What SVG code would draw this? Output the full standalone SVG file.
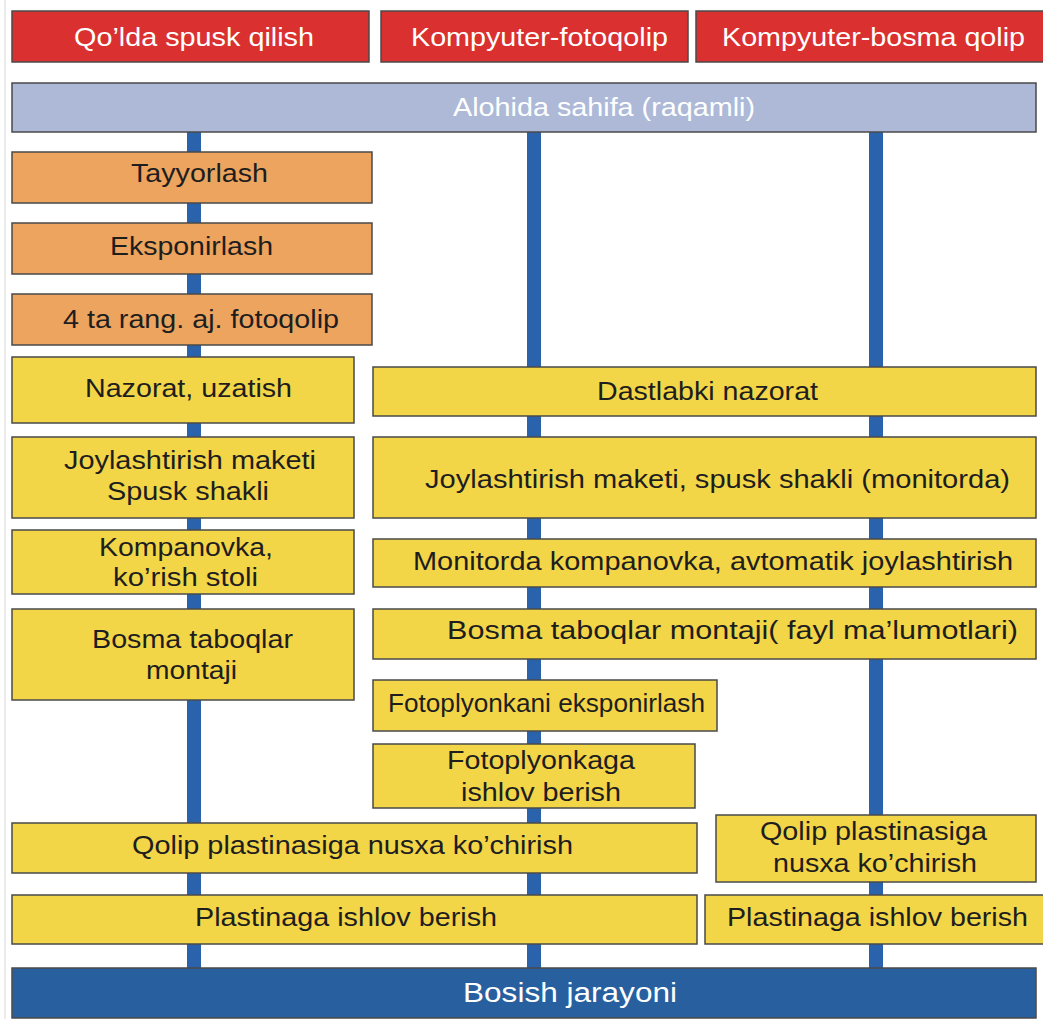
<svg xmlns="http://www.w3.org/2000/svg" width="1043" height="1019" viewBox="0 0 1043 1019">
  <style>
    .box { stroke: #4a4a4a; stroke-width: 1.5; }
    .red { fill: #da3030; }
    .sky { fill: #adb9d7; }
    .org { fill: #eca45f; }
    .yel { fill: #f3d548; }
    .navy { fill: #28609f; }
    .bar { fill: #2a63ab; }
    text { font-family: "Liberation Sans", Arial, sans-serif; }
    .wt { fill: #ffffff; }
    .bk { fill: #1e1e1e; font-size: 25px; }
    .hd { font-size: 26px; }
  </style>
  <rect x="0" y="0" width="1043" height="1019" fill="#ffffff"/>
  <line x1="5" y1="0" x2="5" y2="1019" stroke="#e4e4e4" stroke-width="1.5"/>

  <!-- vertical flow bars -->
  <g id="connectors">
    <rect class="bar" x="187" y="130" width="14" height="840"/>
    <rect class="bar" x="527" y="130" width="14" height="840"/>
    <rect class="bar" x="869" y="130" width="14" height="840"/>
  </g>

  <!-- column headers -->
  <g id="h-manual">
    <rect class="box red" x="12" y="11" width="357" height="51"/>
    <text class="wt hd" x="74" y="46" textLength="240" lengthAdjust="spacingAndGlyphs">Qo’lda spusk qilish</text>
  </g>
  <g id="h-photo">
    <rect class="box red" x="381" y="11" width="307" height="51"/>
    <text class="wt hd" x="411" y="46" textLength="257" lengthAdjust="spacingAndGlyphs">Kompyuter-fotoqolip</text>
  </g>
  <g id="h-plate">
    <rect class="box red" x="696" y="11" width="360" height="51"/>
    <text class="wt hd" x="722" y="46" textLength="303" lengthAdjust="spacingAndGlyphs">Kompyuter-bosma qolip</text>
  </g>

  <g id="page">
    <rect class="box sky" x="12" y="83" width="1024" height="49"/>
    <text class="wt" font-size="25" x="453" y="116" textLength="302" lengthAdjust="spacingAndGlyphs">Alohida sahifa (raqamli)</text>
  </g>

  <!-- manual column -->
  <g id="prep">
    <rect class="box org" x="12" y="152" width="360" height="51"/>
    <text class="bk" x="131" y="182" textLength="137" lengthAdjust="spacingAndGlyphs">Tayyorlash</text>
  </g>
  <g id="expose">
    <rect class="box org" x="12" y="223" width="360" height="51"/>
    <text class="bk" x="110" y="255" textLength="163" lengthAdjust="spacingAndGlyphs">Eksponirlash</text>
  </g>
  <g id="four-color">
    <rect class="box org" x="12" y="294" width="360" height="51"/>
    <text class="bk" x="63" y="328" textLength="276" lengthAdjust="spacingAndGlyphs">4 ta rang. aj. fotoqolip</text>
  </g>
  <g id="control-left">
    <rect class="box yel" x="12" y="357" width="342" height="66"/>
    <text class="bk" x="85" y="397" textLength="207" lengthAdjust="spacingAndGlyphs">Nazorat, uzatish</text>
  </g>
  <g id="layout-left">
    <rect class="box yel" x="12" y="437" width="342" height="81"/>
    <text class="bk" x="64" y="469" textLength="252" lengthAdjust="spacingAndGlyphs">Joylashtirish maketi</text>
    <text class="bk" x="107" y="500" textLength="162" lengthAdjust="spacingAndGlyphs">Spusk shakli</text>
  </g>
  <g id="composing-left">
    <rect class="box yel" x="12" y="530" width="342" height="64"/>
    <text class="bk" x="99" y="556" textLength="174" lengthAdjust="spacingAndGlyphs">Kompanovka,</text>
    <text class="bk" x="113" y="586" textLength="145" lengthAdjust="spacingAndGlyphs">ko’rish stoli</text>
  </g>
  <g id="assembly-left">
    <rect class="box yel" x="12" y="609" width="342" height="91"/>
    <text class="bk" x="92" y="648" textLength="201" lengthAdjust="spacingAndGlyphs">Bosma taboqlar</text>
    <text class="bk" x="146" y="679" textLength="91" lengthAdjust="spacingAndGlyphs">montaji</text>
  </g>

  <!-- digital columns -->
  <g id="control-right">
    <rect class="box yel" x="373" y="367" width="663" height="49"/>
    <text class="bk" x="597" y="400" textLength="221" lengthAdjust="spacingAndGlyphs">Dastlabki nazorat</text>
  </g>
  <g id="layout-right">
    <rect class="box yel" x="373" y="437" width="663" height="81"/>
    <text class="bk" font-size="27" x="425" y="488" textLength="585" lengthAdjust="spacingAndGlyphs">Joylashtirish maketi, spusk shakli (monitorda)</text>
  </g>
  <g id="composing-right">
    <rect class="box yel" x="373" y="539" width="663" height="48"/>
    <text class="bk" x="413" y="570" textLength="600" lengthAdjust="spacingAndGlyphs">Monitorda kompanovka, avtomatik joylashtirish</text>
  </g>
  <g id="assembly-right">
    <rect class="box yel" x="373" y="609" width="663" height="50"/>
    <text class="bk" x="447" y="639" textLength="571" lengthAdjust="spacingAndGlyphs">Bosma taboqlar montaji( fayl ma’lumotlari)</text>
  </g>
  <g id="film-expose">
    <rect class="box yel" x="373" y="680" width="344" height="51"/>
    <text class="bk" x="388" y="712" textLength="317" lengthAdjust="spacingAndGlyphs">Fotoplyonkani eksponirlash</text>
  </g>
  <g id="film-process">
    <rect class="box yel" x="373" y="744" width="322" height="64"/>
    <text class="bk" x="447" y="769" textLength="188" lengthAdjust="spacingAndGlyphs">Fotoplyonkaga</text>
    <text class="bk" x="461" y="801" textLength="160" lengthAdjust="spacingAndGlyphs">ishlov berish</text>
  </g>
  <g id="copy-left">
    <rect class="box yel" x="12" y="823" width="685" height="50"/>
    <text class="bk" x="132" y="854" textLength="441" lengthAdjust="spacingAndGlyphs">Qolip plastinasiga nusxa ko’chirish</text>
  </g>
  <g id="copy-right">
    <rect class="box yel" x="716" y="815" width="320" height="67"/>
    <text class="bk" x="760" y="840" textLength="227" lengthAdjust="spacingAndGlyphs">Qolip plastinasiga</text>
    <text class="bk" x="773" y="872" textLength="204" lengthAdjust="spacingAndGlyphs">nusxa ko’chirish</text>
  </g>
  <g id="plate-left">
    <rect class="box yel" x="12" y="895" width="685" height="49"/>
    <text class="bk" x="195" y="926" textLength="302" lengthAdjust="spacingAndGlyphs">Plastinaga ishlov berish</text>
  </g>
  <g id="plate-right">
    <rect class="box yel" x="705" y="895" width="350" height="49"/>
    <text class="bk" x="727" y="926" textLength="301" lengthAdjust="spacingAndGlyphs">Plastinaga ishlov berish</text>
  </g>

  <g id="printing">
    <rect class="box navy" x="12" y="968" width="1024" height="50"/>
    <text class="wt" font-size="27" x="463" y="1002" textLength="214" lengthAdjust="spacingAndGlyphs">Bosish jarayoni</text>
  </g>
</svg>
